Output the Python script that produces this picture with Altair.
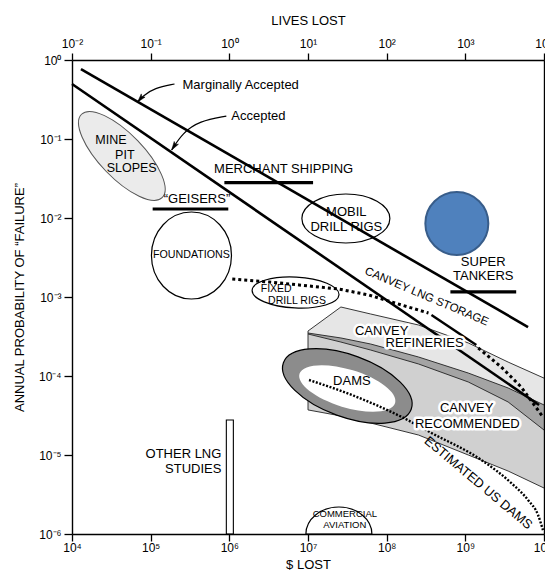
import altair as alt
import pandas as pd

FONT = "Liberation Sans"
PLOT_W = 472
PLOT_H = 474

# ---------------- values ----------------
x_ticks = [1e4, 1e5, 1e6, 1e7, 1e8, 1e9, 1e10]          # $ lost
y_ticks = [1e-6, 1e-5, 1e-4, 1e-3, 1e-2, 1e-1, 1.0]     # annual probability of failure

# criterion lines
line_names = ["Marginally Accepted", "Accepted"]
line_x1 = [1.30e4, 1.0e4]
line_y1 = [0.769, 0.497]
line_x2 = [6.27e9, 8.65e9]
line_y2 = [4.17e-4, 4.3e-5]

# horizontal bars
bar_names = ["MERCHANT SHIPPING", "GEISERS", "SUPER TANKERS"]
bar_x1 = [8.65e5, 1.06e5, 6.46e8]
bar_x2 = [1.16e7, 9.7e5, 4.43e9]
bar_y = [0.028, 0.013, 1.16e-3]

# other LNG studies bar
lng_bar_x = [9.16e5, 1.125e6]
lng_bar_y = [1e-6, 2.77e-5]

# Canvey bands
canvey_x = [1.0e7, 2.62e7, 6.27e7, 2.54e8, 1.09e9, 3.50e9, 1.0e10]
refin_upper = [3.71e-4, 7.47e-4, 6.09e-4, 4.42e-4, 2.62e-4, 1.50e-4, 9.4e-5]
refin_lower = [3.40e-4, 2.69e-4, 2.13e-4, 1.42e-4, 8.4e-5, 4.69e-5, 2.07e-5]
recom_upper = [3.50e-4, 3.03e-4, 2.54e-4, 1.74e-4, 1.09e-4, 7.05e-5, 4.30e-5]
recom_lower = [3.72e-5, 3.12e-5, 2.54e-5, 1.79e-5, 1.0e-5, 6.27e-6, 3.82e-6]

# Canvey LNG storage curve (dotted, solid middle piece, dotted tail)
lng_x = [1.09e6, 3.21e6, 7.69e6, 2.47e7, 5.92e7, 1.55e8, 3.40e8]
lng_y = [1.69e-3, 1.55e-3, 1.42e-3, 1.26e-3, 1.06e-3, 7.92e-4, 6.27e-4]
lng_solid_x = [3.71e8, 1.38e9]
lng_solid_y = [5.91e-4, 2.47e-4]
lng_tail_x = [1.46e9, 2.86e9, 5.12e9, 9.70e9]
lng_tail_y = [2.26e-4, 1.30e-4, 7.26e-5, 3.03e-5]

# estimated US dams curve
dams_x = [1.03e7, 3.61e7, 1.55e8, 3.71e8, 1.60e9, 3.82e9, 6.27e9, 8.40e9, 9.70e9]
dams_y = [8.90e-5, 5.75e-5, 3.03e-5, 1.90e-5, 8.65e-6, 4.43e-6, 2.69e-6, 1.74e-6, 1.12e-6]

# ellipses / circle centres
ell_names = ["MINE PIT SLOPES", "FOUNDATIONS", "MOBIL DRILL RIGS", "FIXED DRILL RIGS",
             "DAMS OUTER", "DAMS INNER", "COMMERCIAL AVIATION"]
ell_x = [4.30e4, 3.30e5, 3.03e7, 6.95e6, 3.16e7, 3.16e7, 2.47e7]
ell_y = [0.061, 3.35e-3, 9.86e-3, 1.14e-3, 7.47e-5, 6.95e-5, 1e-6]
marker_x = [7.80e8]
marker_y = [8.51e-3]

# annotation arrows
arrow1_x = [2.01e5, 1.12e5, 7.92e4, 6.84e4]
arrow1_y = [0.497, 0.442, 0.350, 0.294]
arrow2_x = [9.16e5, 4.17e5, 2.54e5, 1.85e5]
arrow2_y = [0.195, 0.169, 0.119, 0.0726]

# labels
label_text = ["Marginally Accepted", "Accepted", "MINE", "PIT", "SLOPES",
              "MERCHANT SHIPPING", "\u201cGEISERS\u201d", "FOUNDATIONS", "MOBIL", "DRILL RIGS",
              "SUPER", "TANKERS", "FIXED", "DRILL RIGS", "CANVEY LNG STORAGE",
              "CANVEY", "REFINERIES", "DAMS", "CANVEY", "RECOMMENDED",
              "ESTIMATED US DAMS", "OTHER LNG", "STUDIES", "COMMERCIAL", "AVIATION"]
label_x = [2.54e5, 1.06e6, 3.12e4, 4.69e4, 5.74e4,
           4.90e6, 3.88e5, 3.30e5, 3.07e7, 3.07e7,
           1.69e9, 1.69e9, 3.94e6, 7.26e6, 3.21e8,
           8.65e7, 3.03e8, 3.61e7, 1.04e9, 1.06e9,
           1.46e9, 7.92e5, 7.92e5, 2.94e7, 2.94e7]
label_y = [0.483, 0.195, 0.0971, 0.0627, 0.0430,
           0.0417, 0.0174, 3.40e-3, 0.0119, 7.69e-3,
           2.77e-3, 1.85e-3, 1.27e-3, 8.9e-4, 1.0e-3,
           3.71e-4, 2.62e-4, 8.65e-5, 3.94e-5, 2.47e-5,
           4.43e-6, 1.03e-5, 6.65e-6, 1.79e-6, 1.30e-6]

# ---------------- styles ----------------
# (font size, align, angle, halo)
LABEL_STYLE = [(13, "left", 0, False), (13, "left", 0, False), (12.5, "center", 0, False),
               (12.5, "center", 0, False), (12.5, "center", 0, False),
               (13, "center", 0, False), (13, "center", 0, False), (10.7, "center", 0, False),
               (13, "center", 0, False), (13, "center", 0, False),
               (13, "center", 0, False), (13, "center", 0, False), (10.5, "center", 0, False),
               (10.5, "center", 0, False), (11.5, "center", 23, False),
               (13, "center", 0, True), (13, "center", 0, True), (13, "center", 0, False),
               (13, "center", 0, True), (13, "center", 0, True),
               (13, "center", 40, False), (13, "right", 0, False), (13, "right", 0, False),
               (9.5, "center", 0, False), (9.5, "center", 0, False)]

ELL_STYLE = {
    "MINE PIT SLOPES": dict(a=58, b=22, angle=46, fill="#ebebeb", stroke="#555555", sw=1.0),
    "FOUNDATIONS": dict(a=43.5, b=40, angle=90, fill="white", stroke="black", sw=1.2),
    "MOBIL DRILL RIGS": dict(a=44, b=24.5, angle=0, fill=None, stroke="black", sw=1.2),
    "FIXED DRILL RIGS": dict(a=43.5, b=15.5, angle=3, fill=None, stroke="black", sw=1.2),
    "DAMS OUTER": dict(a=68, b=31, angle=20, fill="#8c8c8c", stroke="black", sw=1.2),
    "DAMS INNER": dict(a=50, b=19, angle=17, fill="white", stroke=None, sw=0),
    "COMMERCIAL AVIATION": dict(a=33, b=27, angle=0, fill="white", stroke="black", sw=1.2, half=True),
}

xs = alt.Scale(type="log", domain=[x_ticks[0], x_ticks[-1]], nice=False)
ys = alt.Scale(type="log", domain=[y_ticks[0], y_ticks[-1]], nice=False)


def X(f="x"):
    return alt.X(f"{f}:Q", scale=xs, axis=None)


def Y(f="y"):
    return alt.Y(f"{f}:Q", scale=ys, axis=None)


def sup_label(shift):
    e = "(round(log(datum.value) / LN10)" + shift + ")"
    a = "abs" + e
    digits = "['\u2070','\u00b9','\u00b2','\u00b3','\u2074','\u2075','\u2076','\u2077','\u2078','\u2079']"
    return ("'10' + (" + e + " < 0 ? '\u207b' : '') + (" + a + " >= 10 ? " + digits +
            "[floor(" + a + " / 10)] : '') + " + digits + "[" + a + " % 10]")


AX = dict(grid=False, domainColor="black", domainWidth=1.4, tickColor="black", tickWidth=1.3,
          labelFont=FONT, labelFontSize=12, labelColor="black",
          labelFlush=False, labelOverlap=False,
          titleFont=FONT, titleFontSize=13, titleFontWeight="normal", titleColor="black", zindex=1)

axis_df = pd.DataFrame({"x": [x_ticks[0], x_ticks[-1]], "y": [y_ticks[0], y_ticks[-1]]})
axes_main = alt.Chart(axis_df).mark_point(opacity=0).encode(
    x=alt.X("x:Q", scale=xs, axis=alt.Axis(orient="bottom", values=x_ticks, labelExpr=sup_label(""),
                                          tickSize=7, labelPadding=1, title="$ LOST",
                                          titleX=PLOT_W / 2, titleY=24, titleBaseline="top", **AX)),
    y=alt.Y("y:Q", scale=ys, axis=alt.Axis(orient="left", values=y_ticks, labelExpr=sup_label(""),
                                          tickSize=8, labelPadding=3,
                                          title="ANNUAL PROBABILITY OF \u201cFAILURE\u201d",
                                          titleX=-53, titleY=PLOT_H / 2, titleBaseline="middle", **AX)),
)
axes_alt = alt.Chart(axis_df).mark_point(opacity=0).encode(
    x=alt.X("x:Q", scale=xs, axis=alt.Axis(orient="top", values=x_ticks, labelExpr=sup_label(" - 6"),
                                          tickSize=7, labelPadding=3, title="LIVES LOST",
                                          titleX=PLOT_W / 2, titleY=-40, titleBaseline="middle", **AX)),
    y=alt.Y("y:Q", scale=ys, axis=alt.Axis(orient="right", values=y_ticks, labels=False,
                                          tickSize=7, title="", **AX)),
)

layers = [axes_main, axes_alt]

# Canvey bands
band_df = pd.DataFrame({"x": canvey_x, "ru": refin_upper, "rl": refin_lower,
                        "cu": recom_upper, "cl": recom_lower})
layers.append(alt.Chart(band_df).mark_area(color="#e6e6e6", opacity=1).encode(
    x=X(), y=Y("rl"), y2=alt.Y2("ru:Q")))
layers.append(alt.Chart(band_df).mark_area(color="#d0d0d0", opacity=1).encode(
    x=X(), y=Y("cl"), y2=alt.Y2("cu:Q")))
layers.append(alt.Chart(band_df).mark_area(color="#a4a4a4", opacity=1).encode(
    x=X(), y=Y("rl"), y2=alt.Y2("cu:Q")))
edge_df = pd.concat([pd.DataFrame({"x": canvey_x, "y": v, "edge": k}) for k, v in
                     [("ru", refin_upper), ("rl", refin_lower), ("cu", recom_upper), ("cl", recom_lower)]])
layers.append(alt.Chart(edge_df).mark_line(color="#222222", strokeWidth=0.9).encode(
    x=X(), y=Y(), detail="edge:N"))
layers.append(alt.Chart(pd.DataFrame({"x": [canvey_x[0]], "y": [recom_lower[0]], "y2": [refin_upper[0]]}))
              .mark_rule(color="#222222", strokeWidth=0.9).encode(x=X(), y=Y(), y2=alt.Y2("y2:Q")))


def ellipse_path(r, half=False):
    if half:
        return f"M-1,0 A1,{r:.3f} 0 0,1 1,0 Z"
    return f"M-1,0 A1,{r:.3f} 0 0,1 1,0 A1,{r:.3f} 0 0,1 -1,0 Z"


for name, ex, ey in zip(ell_names, ell_x, ell_y):
    st = ELL_STYLE[name]
    kw = dict(shape=ellipse_path(st["b"] / st["a"], st.get("half", False)), size=(2 * st["a"]) ** 2,
              angle=st["angle"], opacity=1)
    if st["fill"] is None:
        kw.update(filled=False, fill="transparent")
    else:
        kw.update(filled=True, fill=st["fill"], fillOpacity=1)
    if st["stroke"] is None:
        kw.update(strokeWidth=0, stroke="transparent")
    else:
        kw.update(stroke=st["stroke"], strokeWidth=st["sw"], strokeOpacity=1)
    layers.append(alt.Chart(pd.DataFrame({"x": [ex], "y": [ey]})).mark_point(**kw).encode(x=X(), y=Y()))

# other LNG studies bar
layers.append(alt.Chart(pd.DataFrame({"x": [lng_bar_x[0]], "x2": [lng_bar_x[1]],
                                      "y": [lng_bar_y[0]], "y2": [lng_bar_y[1]]}))
              .mark_rect(fill="white", stroke="black", strokeWidth=1.1)
              .encode(x=X(), x2=alt.X2("x2:Q"), y=Y(), y2=alt.Y2("y2:Q")))

# criterion lines
crit_df = pd.DataFrame({"x": line_x1, "x2": line_x2, "y": line_y1, "y2": line_y2, "name": line_names})
layers.append(alt.Chart(crit_df).mark_rule(color="black", strokeWidth=2.6).encode(
    x=X(), x2=alt.X2("x2:Q"), y=Y(), y2=alt.Y2("y2:Q")))

# horizontal bars
bars_df = pd.DataFrame({"x": bar_x1, "x2": bar_x2, "y": bar_y, "name": bar_names})
layers.append(alt.Chart(bars_df).mark_rule(color="black", strokeWidth=3.2).encode(
    x=X(), x2=alt.X2("x2:Q"), y=Y()))

# Canvey LNG storage
layers.append(alt.Chart(pd.DataFrame({"x": lng_x, "y": lng_y})).mark_line(
    color="black", strokeWidth=3, strokeDash=[3, 3]).encode(x=X(), y=Y()))
layers.append(alt.Chart(pd.DataFrame({"x": lng_solid_x, "y": lng_solid_y})).mark_line(
    color="black", strokeWidth=2.4).encode(x=X(), y=Y()))
layers.append(alt.Chart(pd.DataFrame({"x": lng_tail_x, "y": lng_tail_y})).mark_line(
    color="black", strokeWidth=3, strokeDash=[3, 3]).encode(x=X(), y=Y()))

# estimated US dams
layers.append(alt.Chart(pd.DataFrame({"x": dams_x, "y": dams_y})).mark_line(
    color="black", strokeWidth=2.4, strokeDash=[2, 1.6], interpolate="monotone").encode(x=X(), y=Y()))

# arrows
arr_df = pd.DataFrame({"x": arrow1_x + arrow2_x, "y": arrow1_y + arrow2_y,
                       "arrow": ["a"] * len(arrow1_x) + ["b"] * len(arrow2_x),
                       "i": list(range(len(arrow1_x))) + list(range(len(arrow2_x)))})
layers.append(alt.Chart(arr_df).mark_line(color="black", strokeWidth=1.2, interpolate="basis").encode(
    x=X(), y=Y(), detail="arrow:N", order="i:Q"))
HEAD = "M0,0 L0.5,1.7 L0,1.3 L-0.5,1.7 Z"
for ax_, ay_, ang in [(arrow1_x[-1], arrow1_y[-1], 220), (arrow2_x[-1], arrow2_y[-1], 213)]:
    layers.append(alt.Chart(pd.DataFrame({"x": [ax_], "y": [ay_]})).mark_point(
        shape=HEAD, size=100, angle=ang, filled=True, fill="black", stroke="black", strokeWidth=0.5,
        opacity=1).encode(x=X(), y=Y()))

# labels
for t, lx, ly, (fs, al, ang, halo) in zip(label_text, label_x, label_y, LABEL_STYLE):
    d = pd.DataFrame({"x": [lx], "y": [ly], "t": [t]})
    if halo:
        layers.append(alt.Chart(d).mark_text(font=FONT, fontSize=fs, align=al, angle=ang, baseline="middle",
                                             fill="white", stroke="white", strokeWidth=5,
                                             strokeJoin="round").encode(x=X(), y=Y(), text="t:N"))
    layers.append(alt.Chart(d).mark_text(font=FONT, fontSize=fs, align=al, angle=ang, baseline="middle",
                                         color="black").encode(x=X(), y=Y(), text="t:N"))

# blue marker
layers.append(alt.Chart(pd.DataFrame({"x": marker_x, "y": marker_y})).mark_point(
    shape="circle", size=63 ** 2, filled=True, fill="#4f81bd", fillOpacity=1, stroke="#385d8a",
    strokeWidth=2, opacity=1).encode(x=X(), y=Y()))

chart = alt.layer(*layers).resolve_axis(x="independent", y="independent").properties(
    width=PLOT_W, height=PLOT_H,
    padding={"left": 64, "top": 52, "right": 1, "bottom": 38},
    autosize=alt.AutoSizeParams(type="none"),
    background="white",
).configure_view(stroke=None)

chart.save("out.html", embed_options={"renderer": "svg", "actions": False})
